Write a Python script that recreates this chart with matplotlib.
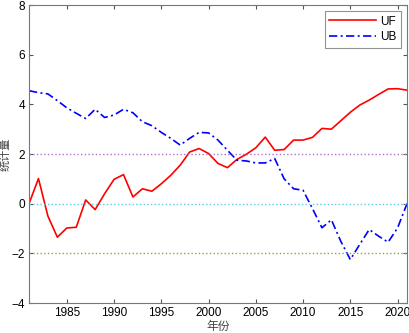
import numpy as np
import matplotlib.pyplot as plt

plt.rcParams['font.family'] = ['Liberation Sans', 'Noto Sans CJK SC', 'DejaVu Sans']

years = list(range(1981, 2022))
uf = [0.0, 1.01, -0.5, -1.35, -0.98, -0.95, 0.15, -0.24, 0.4, 0.98,
      1.17, 0.27, 0.6, 0.5, 0.8, 1.14, 1.55, 2.08, 2.22, 2.02,
      1.62, 1.45, 1.78, 1.99, 2.25, 2.68, 2.15, 2.18, 2.56, 2.56,
      2.67, 3.03, 3.0, 3.34, 3.68, 3.97, 4.17, 4.4, 4.62, 4.63, 4.57]
ub = [4.55, 4.47, 4.42, 4.15, 3.86, 3.64, 3.43, 3.8, 3.47, 3.57,
      3.8, 3.66, 3.3, 3.14, 2.87, 2.63, 2.36, 2.63, 2.87, 2.85,
      2.56, 2.15, 1.75, 1.72, 1.64, 1.64, 1.82, 1.0, 0.6, 0.54,
      -0.2, -0.97, -0.65, -1.52, -2.25, -1.64, -1.04, -1.31, -1.55, -0.98, 0.0]

fig = plt.figure(figsize=(4.09, 3.33), dpi=100)
ax = fig.add_axes([29 / 409, 30 / 333, 378 / 409, 298 / 333])

ax.plot(years, uf, color='red', lw=1.2, label='UF')
ax.plot(years, ub, color='blue', lw=1.2, dashes=(5, 2, 1.2, 2), label='UB')
ax.axhline(2, color='#b070c8', ls=':', lw=1.0)
ax.axhline(0, color='#55c8f0', ls=':', lw=1.0)
ax.axhline(-2, color='#88aa33', ls=':', lw=1.0)

ax.set_xlim(1981, 2021)
ax.set_ylim(-4, 8)
ax.set_xticks([1985, 1990, 1995, 2000, 2005, 2010, 2015, 2020])
ax.set_yticks([-4, -2, 0, 2, 4, 6, 8])
ax.tick_params(direction='in', top=True, right=True, labelsize=8.5,
               length=3, color='#555555', pad=3)
for s in ax.spines.values():
    s.set_color('#777777')
    s.set_linewidth(0.8)

ax.set_xlabel('年份', fontsize=8.5, color='#444444', labelpad=1)
ax.set_ylabel('统计量', fontsize=8, color='#444444')
ax.yaxis.set_label_coords(-0.048, 0.5)

leg = ax.legend(loc='upper right', fontsize=8.5, fancybox=False,
                edgecolor='#777777', handlelength=4, borderpad=0.4,
                labelspacing=0.3, handletextpad=0.3)
leg.get_frame().set_linewidth(0.8)

fig.savefig('out.png', dpi=100)
